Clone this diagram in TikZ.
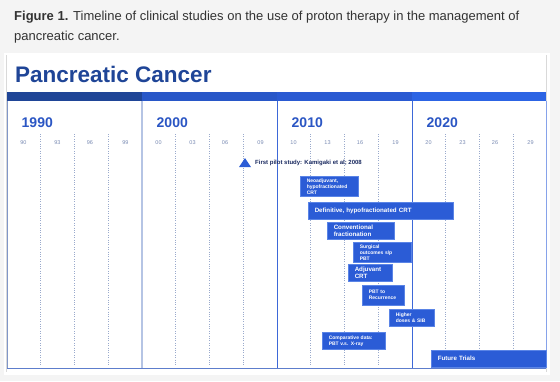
\documentclass[tikz,border=0pt]{standalone}
\usepackage{fontspec}
\setmainfont{Liberation Sans}
\usetikzlibrary{positioning}
\definecolor{pcpage}{HTML}{F4F4F4}
\definecolor{pccap}{HTML}{333333}
\definecolor{pctitle}{HTML}{1F4597}
\definecolor{pcbar1}{HTML}{1F4597}
\definecolor{pcbar2}{HTML}{2857C8}
\definecolor{pcbar3}{HTML}{2A5AD2}
\definecolor{pcbar4}{HTML}{2C64E4}
\definecolor{pcyear}{HTML}{2B56C4}
\definecolor{pctick}{HTML}{7B8CB4}
\definecolor{pcgrid}{HTML}{9AAACC}
\definecolor{pcfill}{HTML}{2B5CD6}
\definecolor{pcedge}{HTML}{5A84E6}
\definecolor{pcnavy}{HTML}{1A2A60}
\definecolor{pcfrmA}{HTML}{8096C8}
\definecolor{pcfrmB}{HTML}{B5C4E4}
\definecolor{pcfrmC}{HTML}{3D68D8}
\definecolor{pcfrmD}{HTML}{86A2EA}
\definecolor{pcfrmE}{HTML}{5D7DCC}

\begin{document}
\begin{tikzpicture}[x=1pt,y=-1pt,
  caption/.style={anchor=base west,inner sep=0pt,text=pccap,font=\fontsize{13}{13}\selectfont},
  yearlab/.style={anchor=base west,font=\bfseries\fontsize{14}{14}\selectfont,text=pcyear,inner sep=0pt},
  ticklab/.style={font=\fontsize{5.5}{5.5}\selectfont,text=pctick,inner sep=0pt},
  gridline/.style={pcgrid,line width=0.7pt,dash pattern=on 0.8pt off 1.6pt},
  evbox/.style={draw=pcedge,line width=0.5pt,fill=pcfill,text=white,anchor=north west,
                align=left,inner xsep=6.5pt,inner ysep=0pt},
  small/.style={font=\bfseries\fontsize{5}{6}\selectfont},
  large/.style={font=\bfseries\fontsize{6.2}{7.2}\selectfont}
]
\useasboundingbox (0,0) rectangle (560,381);
\fill[pcpage] (0,0) rectangle (560,381);
\node[caption] (cap) at (14,20)
  {\textbf{Figure 1.} Timeline of clinical studies on the use of proton therapy in the management of};
\node[caption] (cap2) at (14,40) {pancreatic cancer.};
\fill[white] (4,53) rectangle (550,375);
\draw[black!15,line width=1pt] (6.5,55) -- (6.5,372) (546.5,55) -- (546.5,372);
\node[anchor=base west,inner sep=0pt,text=pctitle,font=\bfseries\fontsize{22.5}{22.5}\selectfont] (title) at (15,82) {Pancreatic Cancer};
\fill[pcbar1] (7,92) rectangle (142,101);
\fill[pcbar2] (142,92) rectangle (277,101);
\fill[pcbar3] (277,92) rectangle (412,101);
\fill[pcbar4] (412,92) rectangle (546,101);
\foreach \x/\d in {7/9,142/0,277/1,412/2}{
  \foreach \o in {33.5,67.5,101}
    \draw[gridline] (\x+\o,134) -- (\x+\o,366);
  \foreach \o/\u in {16.5/0,50.5/3,83/6,118.5/9}
    \node[ticklab] (tk\d\u) at (\x+\o,143) {\d\u};
}
\foreach \x/\yr in {7/1990,142/2000,277/2010,412/2020}
  \node[yearlab] (yr\yr) at (\x+14.5,127) {\yr};
\draw[pcfrmA,line width=1pt] (7,101) -- (7,368);
\draw[pcfrmB,line width=2pt] (142,101) -- (142,368);
\draw[pcfrmC,line width=1pt] (277,101) -- (277,368) (412,101) -- (412,368);
\draw[pcfrmD,line width=1pt] (546,101) -- (546,368);
\draw[pcfrmE,line width=1pt] (7,368) -- (546,368);
\coordinate (tip) at (245,158);
\fill[pcfill] (tip) -- (251,167) -- (239,167) -- cycle;
\node[anchor=west,inner sep=0pt,text=pcnavy,font=\bfseries\fontsize{6}{6}\selectfont] (pilot) at (255,163)
  {First pilot study: Kamigaki et al; 2008};
\node[evbox,small,text width=45pt,minimum height=20pt] (neo) at (300,176) {Neoadjuvant,\\hypofractionated\\CRT};
\node[evbox,large,text width=132pt,minimum height=17pt] (defin) at (308,202) {Definitive, hypofractionated CRT};
\node[evbox,large,text width=54pt,minimum height=17pt] (conv) at (327,222) {Conventional\\fractionation};
\node[evbox,small,text width=45pt,minimum height=20pt] (surg) at (353,242) {Surgical\\outcomes s/p\\PBT};
\node[evbox,large,text width=31pt,minimum height=17pt] (adj) at (348,264) {Adjuvant\\CRT};
\node[evbox,small,text width=29pt,minimum height=20pt] (pbt) at (362,285) {PBT to\\Recurrence};
\node[evbox,small,text width=32pt,minimum height=17pt] (high) at (389,309) {Higher\\doses \& SIB};
\node[evbox,small,text width=50pt,minimum height=17pt] (comp) at (322,332) {Comparative data:\\PBT v.s. X-ray};
\node[evbox,large,text width=102pt,minimum height=17pt] (future) at (431,350) {Future Trials};
\end{tikzpicture}
\end{document}
